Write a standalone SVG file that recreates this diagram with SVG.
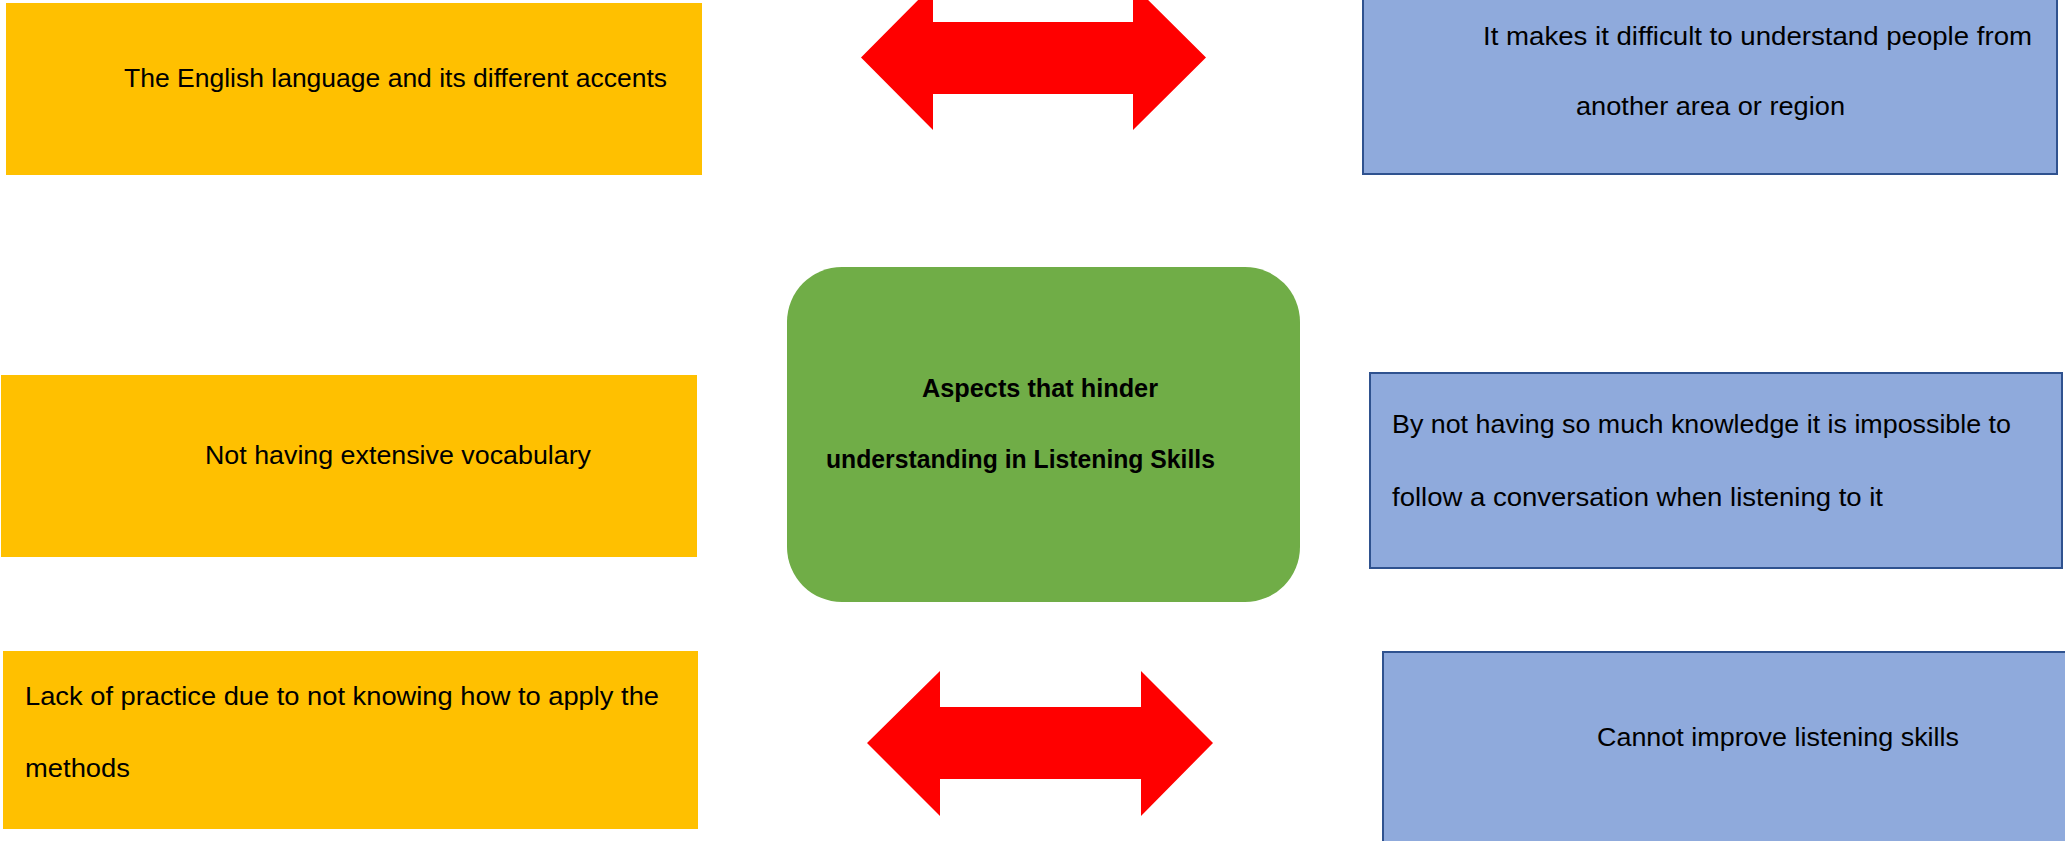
<svg xmlns="http://www.w3.org/2000/svg" width="2065" height="841" viewBox="0 0 2065 841">
<style>
.orange{fill:#FFC000;}
.blue{fill:#8FAADC;stroke:#2F528F;stroke-width:2;}
.green{fill:#70AD47;}
.arrow{fill:#FF0000;}
.t{font-family:"Liberation Sans",Arial,sans-serif;font-size:25px;fill:#000;}
.b{font-weight:bold;}
</style>
<rect width="2065" height="841" fill="#FFFFFF"/>
<g id="connectors">
<polygon class="arrow" points="861,57.5 933,-15 933,22 1133,22 1133,-15 1206,57.5 1133,130 1133,94 933,94 933,130"/>
<polygon class="arrow" points="867,743 940,671 940,707 1141,707 1141,671 1213,743 1141,816 1141,779 940,779 940,816"/>
</g>
<g id="node-accents">
<rect class="orange" x="6" y="3" width="696" height="172"/>
<text class="t" x="124" y="87" textLength="543" lengthAdjust="spacingAndGlyphs">The English language and its different accents</text>
</g>
<g id="node-accents-effect">
<rect class="blue" x="1363" y="-2" width="694" height="176"/>
<text class="t" x="1483" y="45" textLength="549" lengthAdjust="spacingAndGlyphs">It makes it difficult to understand people from</text>
<text class="t" x="1576" y="115" textLength="269" lengthAdjust="spacingAndGlyphs">another area or region</text>
</g>
<g id="node-center">
<rect class="green" x="787" y="267" width="513" height="335" rx="55" ry="55"/>
<text class="t b" x="922" y="397" textLength="236" lengthAdjust="spacingAndGlyphs">Aspects that hinder</text>
<text class="t b" x="826" y="468" textLength="389" lengthAdjust="spacingAndGlyphs">understanding in Listening Skills</text>
</g>
<g id="node-vocabulary">
<rect class="orange" x="1" y="375" width="696" height="182"/>
<text class="t" x="205" y="464" textLength="386" lengthAdjust="spacingAndGlyphs">Not having extensive vocabulary</text>
</g>
<g id="node-vocabulary-effect">
<rect class="blue" x="1370" y="373" width="692" height="195"/>
<text class="t" x="1392" y="433" textLength="619" lengthAdjust="spacingAndGlyphs">By not having so much knowledge it is impossible to</text>
<text class="t" x="1392" y="506" textLength="491" lengthAdjust="spacingAndGlyphs">follow a conversation when listening to it</text>
</g>
<g id="node-practice">
<rect class="orange" x="3" y="651" width="695" height="178"/>
<text class="t" x="25" y="705" textLength="634" lengthAdjust="spacingAndGlyphs">Lack of practice due to not knowing how to apply the</text>
<text class="t" x="25" y="777" textLength="105" lengthAdjust="spacingAndGlyphs">methods</text>
</g>
<g id="node-practice-effect">
<rect class="blue" x="1383" y="652" width="700" height="200"/>
<text class="t" x="1597" y="746" textLength="362" lengthAdjust="spacingAndGlyphs">Cannot improve listening skills</text>
</g>
</svg>
